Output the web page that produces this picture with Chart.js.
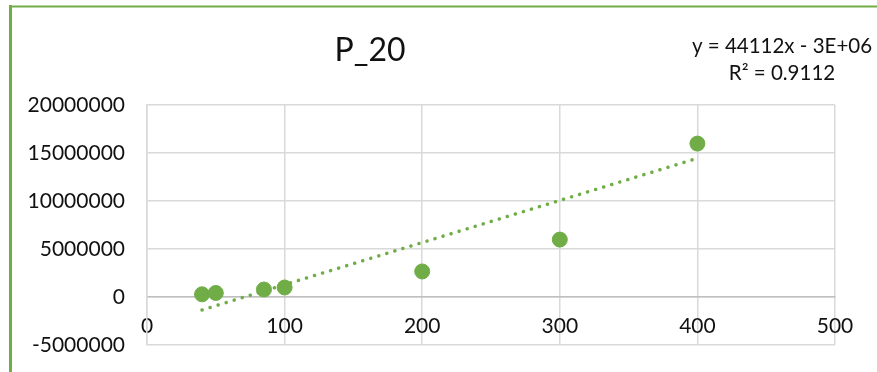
<!DOCTYPE html>
<html><head><meta charset="utf-8">
<script src="https://cdn.jsdelivr.net/npm/chart.js@4.4.1/dist/chart.umd.min.js"></script>
<style>html,body{margin:0;padding:0;background:#fff}#wrap{position:relative;width:877px;height:372px}</style>
</head><body><div id="wrap"><canvas id="c" width="877" height="372"></canvas></div>
<script>
const chartTitle = 'P_20';
const xValues = [40, 50, 85, 100, 200, 300, 400];
const yValues = [280000, 420000, 780000, 990000, 2660000, 5980000, 15980000];
const trendX = [40, 400];
const trendY = [-1350000, 14450000];
const equationLines = ['y = 44112x - 3E+06', 'R\u00B2 = 0.9112'];
const xTickValues = [0, 100, 200, 300, 400, 500];
const yTickValues = [-5000000, 0, 5000000, 10000000, 15000000, 20000000];

const GREEN = '#70AD47';
const FONT = 'Lato, "Open Sans", sans-serif';

const decor = {
  id: 'decor',
  beforeDraw(chart) {
    const ctx = chart.ctx;
    ctx.save();
    ctx.strokeStyle = GREEN;
    ctx.lineWidth = 3;
    ctx.beginPath(); ctx.moveTo(10.5, 5); ctx.lineTo(10.5, 372); ctx.stroke();
    ctx.lineWidth = 2;
    ctx.beginPath(); ctx.moveTo(9, 6.5); ctx.lineTo(877, 6.5); ctx.stroke();
    ctx.restore();
  },
  afterDraw(chart) {
    const ctx = chart.ctx;
    ctx.save();
    ctx.fillStyle = '#111';
    ctx.textAlign = 'center';
    ctx.textBaseline = 'middle';
    ctx.font = '32px ' + FONT;
    ctx.fillText(chartTitle, 370, 51);
    ctx.font = '20.5px ' + FONT;
    ctx.fillText(equationLines[0], 782, 46);
    ctx.fillText(equationLines[1], 782, 73);
    ctx.restore();
  }
};

new Chart(document.getElementById('c'), {
  type: 'scatter',
  data: {
    datasets: [
      {
        data: xValues.map((x, i) => ({x, y: yValues[i]})),
        backgroundColor: GREEN,
        borderColor: GREEN,
        pointRadius: 7.5,
        pointHoverRadius: 7.5,
        order: 1
      },
      {
        type: 'line',
        data: trendX.map((x, i) => ({x, y: trendY[i]})),
        borderColor: GREEN,
        borderWidth: 3.5,
        borderDash: [0.1, 8.3],
        borderCapStyle: 'round',
        pointRadius: 0,
        fill: false,
        order: 2
      }
    ]
  },
  options: {
    responsive: false,
    animation: false,
    events: [],
    layout: { padding: { left: 10, top: 105, right: 42, bottom: 27 } },
    plugins: { legend: { display: false }, tooltip: { enabled: false }, title: { display: false } },
    scales: {
      x: {
        type: 'linear',
        min: 0, max: 500,
        position: { y: 0 },
        afterFit(s) { s.height = 0; },
        afterBuildTicks(s) { s.ticks = xTickValues.map(v => ({ value: v })); },
        ticks: { font: { family: FONT, size: 21 }, color: '#111', padding: 17, maxRotation: 0, callback: v => String(v) },
        grid: { color: '#D9D9D9', lineWidth: 1.5, drawTicks: false },
        border: { color: '#BFBFBF', width: 1.5 }
      },
      y: {
        type: 'linear',
        min: -5000000, max: 20000000,
        afterFit(s) { s.width = 137; s.paddingTop = 0; s.paddingBottom = 0; },
        afterBuildTicks(s) { s.ticks = yTickValues.map(v => ({ value: v })); },
        ticks: { font: { family: FONT, size: 21 }, color: '#111', padding: 22, callback: v => String(v) },
        grid: { color: '#D9D9D9', lineWidth: 1.5, drawTicks: false },
        border: { color: '#D9D9D9', width: 1.5 }
      }
    }
  },
  plugins: [decor]
});
</script>
</body></html>
